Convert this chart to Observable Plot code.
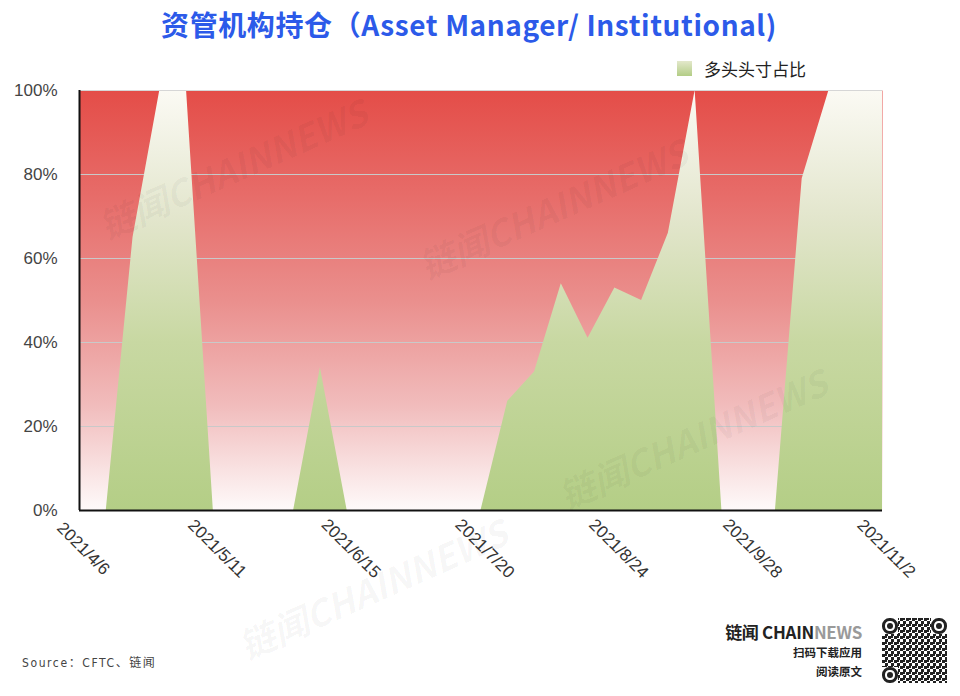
<!DOCTYPE html>
<html>
<head>
<meta charset="utf-8">
<script src="https://cdn.jsdelivr.net/npm/d3@7"></script>
<script src="https://cdn.jsdelivr.net/npm/@observablehq/plot@0.6"></script>
<style>
  html, body { margin: 0; padding: 0; background: #fff; }
  #wrap { position: relative; width: 960px; height: 696px; overflow: hidden; font-family: "Liberation Sans", Arial, sans-serif; }
  #chart { position: absolute; left: 0; top: 0; }
  .title { position: absolute; left: 0; top: 4px; width: 938px; text-align: center; font-family: "Noto Sans CJK SC", sans-serif; font-weight: 700; font-size: 28px; color: #2c5ae9; letter-spacing: 0.6px; white-space: nowrap; }
  .legend { position: absolute; left: 677px; top: 56px; display: flex; align-items: center; font-family: "Noto Sans CJK SC", sans-serif; font-size: 17px; color: #222; }
  .legend .sw { width: 15px; height: 15px; background: linear-gradient(#e3e8cb, #b3cd86); margin-right: 12px; }
  .source { position: absolute; left: 22px; top: 653px; font-family: "DejaVu Sans Condensed", "Noto Sans CJK SC", sans-serif; font-size: 12px; color: #444; letter-spacing: 1.6px; }
  .brand { position: absolute; right: 98px; top: 621px; text-align: right; font-family: "Noto Sans CJK SC", sans-serif; font-weight: 700; color: #222; }
  .brand .b1 { font-size: 17px; line-height: 22px; letter-spacing: -0.3px; }
  .brand .b1 .news { color: #9a9a9a; }
  .brand .b2 { font-size: 11.5px; line-height: 19px; }
  #qr { position: absolute; left: 882px; top: 618px; }
  .wm { position: absolute; font-family: "Noto Sans CJK SC", sans-serif; font-weight: 700; font-style: italic; font-size: 36px; color: rgba(0,0,0,0.04); transform: rotate(-24deg); transform-origin: left center; white-space: nowrap; pointer-events: none; }
</style>
</head>
<body>
<div id="wrap">
  <div id="chart"></div>
  <div class="title">资管机构持仓（Asset Manager/ Institutional)</div>
  <div class="legend"><div class="sw"></div><span>多头头寸占比</span></div>
  <div class="source">Source：CFTC、链闻</div>
  <div class="brand">
    <div class="b1">链闻 CHAIN<span class="news">NEWS</span></div>
    <div class="b2">扫码下载应用</div>
    <div class="b2">阅读原文</div>
  </div>
  <svg id="qr" width="65" height="65"></svg>
  <div class="wm" style="left:100px; top:200px;">链闻CHAINNEWS</div>
  <div class="wm" style="left:420px; top:240px;">链闻CHAINNEWS</div>
  <div class="wm" style="left:560px; top:470px;">链闻CHAINNEWS</div>
  <div class="wm" style="left:240px; top:620px;">链闻CHAINNEWS</div>
</div>
<script>
// ---- data ----
const weeks = ["2021-04-06","2021-04-13","2021-04-20","2021-04-27","2021-05-04","2021-05-11","2021-05-18","2021-05-25",
  "2021-06-01","2021-06-08","2021-06-15","2021-06-22","2021-06-29","2021-07-06","2021-07-13","2021-07-20",
  "2021-07-27","2021-08-03","2021-08-10","2021-08-17","2021-08-24","2021-08-31","2021-09-07","2021-09-14",
  "2021-09-21","2021-09-28","2021-10-05","2021-10-12","2021-10-19","2021-10-26","2021-11-02"];
const longShare = [0,0,65,100,100,0,0,0,0,34,0,0,0,0,0,0,26,33,54,41,53,50,66,100,0,0,0,79,100,100,100];
const xTickDates = ["2021-04-06","2021-05-11","2021-06-15","2021-07-20","2021-08-24","2021-09-28","2021-11-02"];
const xTickLabels = ["2021/4/6","2021/5/11","2021/6/15","2021/7/20","2021/8/24","2021/9/28","2021/11/2"];
const yTicks = [0,20,40,60,80,100];

const data = weeks.map((w, i) => ({date: new Date(w), long: longShare[i]}));
const xt = xTickDates.map((d, i) => ({date: new Date(d), label: xTickLabels[i]}));

const chart = Plot.plot({
  width: 960, height: 696,
  marginTop: 90, marginBottom: 186, marginLeft: 79, marginRight: 78,
  x: {type: "utc", domain: [data[0].date, data[data.length - 1].date], axis: null},
  y: {domain: [0, 100], axis: null},
  style: {background: "transparent", fontFamily: "Liberation Sans, Arial, sans-serif", color: "#333"},
  marks: [
    Plot.frame({fill: "url(#redGrad)", stroke: "none"}),
    Plot.ruleY(yTicks.filter(d => d > 0 && d < 100), {stroke: "#c9c9c9", strokeWidth: 1}),
    Plot.areaY(data, {x: "date", y: "long", fill: "url(#greenGrad)", curve: "linear"}),
    Plot.ruleY([100], {stroke: "#d6d6d6", strokeWidth: 1}),
    Plot.ruleX([data[0].date], {stroke: "#111", strokeWidth: 2}),
    Plot.ruleY([0], {stroke: "#111", strokeWidth: 2}),
    Plot.axisY(yTicks, {tickSize: 0, tickPadding: 22, tickFormat: d => d + "%", fontSize: 17, fill: "#444", label: null}),
    Plot.text(xt, {x: "date", text: "label", frameAnchor: "bottom", dy: 42, rotate: 45, textAnchor: "middle", fontSize: 17, fill: "#333"})
  ]
});

// gradients
const svg = d3.select(chart);
const defs = svg.insert("defs", ":first-child");
const rg = defs.append("linearGradient").attr("id", "redGrad").attr("x1", 0).attr("y1", 0).attr("x2", 0).attr("y2", 1);
[[0, "#e44d48"], [0.25, "#e76c69"], [0.5, "#ea8f8d"], [0.75, "#f1bcbc"], [1, "#fefafa"]].forEach(([o, c]) =>
  rg.append("stop").attr("offset", o).attr("stop-color", c));
const gg = defs.append("linearGradient").attr("id", "greenGrad").attr("x1", 0).attr("y1", 0).attr("x2", 0).attr("y2", 1);
[[0, "#fbfaf4"], [0.3, "#e3e6cd"], [0.6, "#c8d8a2"], [1, "#b4ce86"]].forEach(([o, c]) =>
  gg.append("stop").attr("offset", o).attr("stop-color", c));

document.getElementById("chart").appendChild(chart);

// decorative QR-like badge
const qr = d3.select("#qr");
const defs2 = qr.append("defs");
const pat = defs2.append("pattern").attr("id", "qp").attr("width", 6).attr("height", 6).attr("patternUnits", "userSpaceOnUse");
pat.append("rect").attr("width", 3).attr("height", 3).attr("fill", "#222");
pat.append("rect").attr("x", 3).attr("y", 3).attr("width", 3).attr("height", 3).attr("fill", "#222");
pat.append("rect").attr("x", 3).attr("y", 0).attr("width", 2).attr("height", 2).attr("fill", "#222");
qr.append("rect").attr("width", 65).attr("height", 65).attr("fill", "url(#qp)");
[[0, 0], [49, 0], [0, 49]].forEach(([x, y]) => {
  qr.append("rect").attr("x", x).attr("y", y).attr("width", 16).attr("height", 16).attr("fill", "#fff");
  qr.append("rect").attr("x", x + 1.5).attr("y", y + 1.5).attr("width", 13).attr("height", 13).attr("rx", 6).attr("fill", "none").attr("stroke", "#222").attr("stroke-width", 3);
  qr.append("circle").attr("cx", x + 8).attr("cy", y + 8).attr("r", 3).attr("fill", "#222");
});
</script>
</body>
</html>
